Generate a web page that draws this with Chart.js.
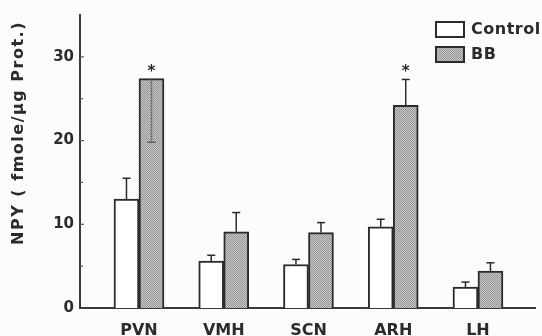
<!DOCTYPE html>
<html>
<head>
<meta charset="utf-8">
<script src="https://cdn.jsdelivr.net/npm/chart.js@4.4.1/dist/chart.umd.min.js"></script>
<style>
  html, body { margin: 0; padding: 0; background: #fcfcfb; }
  #wrap { width: 542px; height: 336px; }
</style>
</head>
<body>
<div id="wrap"><canvas id="npy-chart" width="542" height="336"></canvas></div>
<script>
// Data
var categories = ['PVN', 'VMH', 'SCN', 'ARH', 'LH'];
var controlMean = [13.0, 5.6, 5.2, 9.7, 2.5];
var controlSem = [2.5, 0.7, 0.6, 0.9, 0.6];
var bbMean = [27.4, 9.1, 9.0, 24.2, 4.4];
// PVN error bar is drawn downward inside the bar in the original (negative = down)
var bbSem = [-7.6, 2.3, 1.2, 3.1, 1.0];
var significant = [true, false, false, true, false];
var yTicks = [0, 10, 20, 30];
var yMinorTicks = [5, 15, 25];

var FONT = "'DejaVu Sans', sans-serif";
var INK = '#2b2b2b';

// stippled grey fill like the scanned bars
function makePattern() {
    var c = document.createElement('canvas');
    c.width = 2;
    c.height = 2;
    var p = c.getContext('2d');
    p.fillStyle = '#c6c6c6';
    p.fillRect(0, 0, 2, 2);
    p.fillStyle = '#979797';
    p.fillRect(0, 0, 1, 1);
    p.fillRect(1, 1, 1, 1);
    return p.createPattern(c, 'repeat');
}
var bbFill = makePattern();

function toPoints(values) {
    var pts = [];
    for (var i = 0; i < values.length; i++) {
        pts.push({ x: i, y: values[i] });
    }
    return pts;
}

// error bars, stars, inner ticks, legend and y title
var extrasPlugin = {
    id: 'extras',
    afterDatasetsDraw: function(chart) {
        var ctx = chart.ctx;
        var yScale = chart.scales.y;
        var sems = [controlSem, bbSem];
        var means = [controlMean, bbMean];

        ctx.save();
        for (var d = 0; d < 2; d++) {
            var meta = chart.getDatasetMeta(d);
            for (var i = 0; i < meta.data.length; i++) {
                var bar = meta.data[i];
                var yTop = yScale.getPixelForValue(means[d][i]);
                var yEnd = yScale.getPixelForValue(means[d][i] + sems[d][i]);
                var down = sems[d][i] < 0;
                ctx.beginPath();
                ctx.strokeStyle = down ? '#5a5a5a' : INK;
                ctx.lineWidth = 1.5;
                ctx.setLineDash(down ? [2, 1] : []);
                ctx.moveTo(bar.x, yTop);
                ctx.lineTo(bar.x, yEnd);
                ctx.stroke();
                ctx.setLineDash([]);
                ctx.beginPath();
                ctx.moveTo(bar.x - 4, yEnd);
                ctx.lineTo(bar.x + 4, yEnd);
                ctx.stroke();

                if (d === 1 && significant[i]) {
                    var top = Math.min(yTop, yEnd);
                    ctx.fillStyle = INK;
                    ctx.font = 'bold 15px ' + FONT;
                    ctx.textAlign = 'center';
                    ctx.textBaseline = 'alphabetic';
                    ctx.fillText('*', bar.x, top - 3);
                }
            }
        }

        // ticks pointing into the plot
        var ax = chart.chartArea.left;
        ctx.strokeStyle = '#555';
        ctx.lineWidth = 1.2;
        yTicks.concat(yMinorTicks).forEach(function(v) {
            if (v === 0) return;
            var py = yScale.getPixelForValue(v);
            var len = yMinorTicks.indexOf(v) >= 0 ? 3 : 4;
            ctx.beginPath();
            ctx.moveTo(ax, py);
            ctx.lineTo(ax + len, py);
            ctx.stroke();
        });

        // legend
        var items = [
            { label: 'Control', fill: '#ffffff', y: 22 },
            { label: 'BB', fill: bbFill, y: 47 }
        ];
        items.forEach(function(it) {
            ctx.fillStyle = it.fill;
            ctx.fillRect(436, it.y, 28, 15);
            ctx.strokeStyle = INK;
            ctx.lineWidth = 2;
            ctx.strokeRect(436, it.y, 28, 15);
            ctx.fillStyle = INK;
            ctx.font = 'bold 16px ' + FONT;
            ctx.textAlign = 'left';
            ctx.textBaseline = 'middle';
            ctx.letterSpacing = '0.5px';
            ctx.fillText(it.label, 471, it.y + 8);
            ctx.letterSpacing = '0px';
        });

        // y axis title
        ctx.translate(19, 133);
        ctx.rotate(-Math.PI / 2);
        ctx.fillStyle = INK;
        ctx.font = 'bold 16px ' + FONT;
        ctx.textAlign = 'center';
        ctx.textBaseline = 'middle';
        ctx.letterSpacing = '1.5px';
        ctx.fillText('NPY ( fmole/\u00b5g Prot.)', 0, 0);
        ctx.restore();
    }
};

var ctx = document.getElementById('npy-chart').getContext('2d');
window.npyChart = new Chart(ctx, {
    type: 'bar',
    data: {
        datasets: [{
            label: 'Control',
            data: toPoints(controlMean),
            backgroundColor: '#ffffff',
            borderColor: INK,
            borderWidth: 2,
            barThickness: 25
        }, {
            label: 'BB',
            data: toPoints(bbMean),
            backgroundColor: bbFill,
            borderColor: INK,
            borderWidth: 2,
            barThickness: 25
        }]
    },
    options: {
        responsive: false,
        animation: false,
        devicePixelRatio: 1,
        layout: { padding: { top: 12, right: 7, left: 0, bottom: 0 } },
        plugins: {
            legend: { display: false },
            tooltip: { enabled: false }
        },
        scales: {
            x: {
                type: 'linear',
                min: -0.696,
                max: 4.673,
                offset: false,
                afterBuildTicks: function(s) {
                    s.ticks = categories.map(function(c, i) { return { value: i }; });
                },
                afterFit: function(s) { s.height = 28; },
                grid: { display: false, drawTicks: false },
                border: { color: '#3a3a3a', width: 2 },
                ticks: {
                    padding: 13,
                    color: INK,
                    font: { family: FONT, size: 16, weight: 'bold' },
                    callback: function(v) { return categories[v]; }
                }
            },
            y: {
                min: 0,
                max: 35,
                afterBuildTicks: function(s) {
                    s.ticks = yTicks.map(function(v) { return { value: v }; });
                },
                afterFit: function(s) { s.width = 80; },
                grid: { display: false, drawTicks: false },
                border: { color: '#3a3a3a', width: 2 },
                ticks: {
                    padding: 6,
                    color: INK,
                    font: { family: FONT, size: 15, weight: 'bold' }
                }
            }
        }
    },
    plugins: [extrasPlugin]
});
</script>
</body>
</html>
